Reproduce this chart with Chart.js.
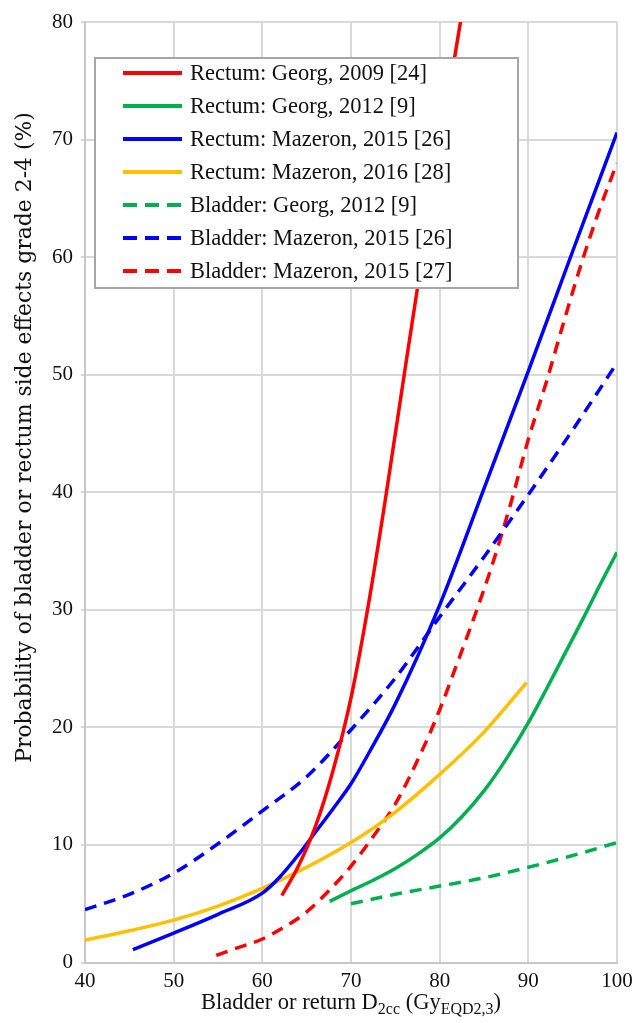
<!DOCTYPE html>
<html>
<head>
<meta charset="utf-8">
<script src="https://cdn.jsdelivr.net/npm/chart.js@4/dist/chart.umd.min.js"></script>
<style>
  body { margin: 0; background: #fff; }
</style>
</head>
<body>
<canvas id="doseChart" width="639" height="1023"></canvas>
<script>
// curves (x = dose in Gy, y = probability in %)
const rectumGeorg2009X = [62.2, 64, 66, 68, 70, 72, 74, 76, 77.5, 80, 82.3, 83];
const rectumGeorg2009Y = [5.7, 8.1, 11.6, 16.4, 22.5, 30.6, 40, 50, 57.4, 69.2, 79.8, 83];

const rectumGeorg2012X = [67.6, 70, 72.5, 75, 77.5, 80, 82.5, 85, 87.5, 90, 92, 94, 96, 98, 100];
const rectumGeorg2012Y = [5.2, 6.1, 7.0, 8.0, 9.2, 10.6, 12.4, 14.6, 17.3, 20.4, 23.2, 26.1, 29, 32, 34.9];

const rectumMazeron2015X = [45.4, 50, 55, 60, 62, 64, 66, 68, 70, 72, 75, 80, 85, 90, 95, 100];
const rectumMazeron2015Y = [1.1, 2.5, 4.1, 5.9, 7.3, 9.1, 11.1, 13.1, 15.2, 17.8, 22, 30.4, 40.3, 50.3, 60.5, 70.6];

const rectumMazeron2016X = [40, 45, 50, 55, 60, 65, 70, 75, 80, 85, 89.8];
const rectumMazeron2016Y = [1.9, 2.7, 3.6, 4.8, 6.3, 8.1, 10.2, 12.8, 16, 19.6, 23.8];

const bladderGeorg2012X = [70, 75, 80, 85, 90, 95, 100];
const bladderGeorg2012Y = [5.0, 5.8, 6.5, 7.2, 8.1, 9.1, 10.2];

const bladderMazeron2015aX = [40, 45, 50, 55, 60, 65, 70, 75, 80, 85, 90, 95, 100];
const bladderMazeron2015aY = [4.5, 5.8, 7.6, 10.1, 12.9, 15.8, 19.8, 24.2, 29.4, 34.5, 39.8, 45.3, 51];

const bladderMazeron2015bX = [54.8, 57, 60, 62, 65, 68, 70, 72, 75, 78, 80, 82, 84, 86, 88, 90, 92, 94, 96, 98, 100];
const bladderMazeron2015bY = [0.6, 1.2, 2.0, 2.8, 4.3, 6.5, 8.2, 10.2, 13.5, 18, 21.5, 25.5, 29.6, 34, 39, 44.5, 49.3, 54.5, 59.5, 64, 68];

const xTicks = [40, 50, 60, 70, 80, 90, 100];
const yTicks = [0, 10, 20, 30, 40, 50, 60, 70, 80];

const serif = "'Liberation Serif', 'DejaVu Serif', serif";
const wideSerif = "'DejaVu Serif', 'Liberation Serif', serif";
const yTitleText = 'Probability of bladder or rectum side effects grade 2-4 (%)';

function pts(xs, ys) {
    return xs.map((x, i) => ({ x: x, y: ys[i] }));
}

function curve(label, xs, ys, color, dashed) {
    return {
        label: label,
        data: pts(xs, ys),
        borderColor: color,
        backgroundColor: color,
        borderWidth: 3.5,
        borderDash: dashed ? [12, 8] : [],
        pointRadius: 0,
        cubicInterpolationMode: 'monotone',
        fill: false
    };
}

const datasets = [
    curve('Rectum: Georg, 2009 [24]', rectumGeorg2009X, rectumGeorg2009Y, '#ff0000', false),
    curve('Rectum: Georg, 2012 [9]', rectumGeorg2012X, rectumGeorg2012Y, '#00b050', false),
    curve('Rectum: Mazeron, 2015 [26]', rectumMazeron2015X, rectumMazeron2015Y, '#0000ff', false),
    curve('Rectum: Mazeron, 2016 [28]', rectumMazeron2016X, rectumMazeron2016Y, '#ffc000', false),
    curve('Bladder: Georg, 2012 [9]', bladderGeorg2012X, bladderGeorg2012Y, '#00b050', true),
    curve('Bladder: Mazeron, 2015 [26]', bladderMazeron2015aX, bladderMazeron2015aY, '#0000ff', true),
    curve('Bladder: Mazeron, 2015 [27]', bladderMazeron2015bX, bladderMazeron2015bY, '#ff0000', true)
];

// legend box drawn over the curves, like the original
const boxLegend = {
    id: 'boxLegend',
    afterDatasetsDraw(chart) {
        const ctx = chart.ctx;
        const a = chart.chartArea;
        const left = a.left + 10, top = a.top + 36;
        const w = 423, h = 230;
        ctx.save();
        ctx.fillStyle = '#fff';
        ctx.fillRect(left, top, w, h);
        ctx.strokeStyle = '#a6a6a6';
        ctx.lineWidth = 2;
        ctx.strokeRect(left, top, w, h);
        ctx.font = '22.5px ' + serif;
        ctx.textBaseline = 'middle';
        ctx.fillStyle = '#111';
        chart.data.datasets.forEach((ds, i) => {
            const y = top + 15 + i * 33;
            ctx.beginPath();
            ctx.setLineDash(ds.borderDash.length ? [14, 8] : []);
            ctx.strokeStyle = ds.borderColor;
            ctx.lineWidth = 4;
            ctx.moveTo(left + 28, y);
            ctx.lineTo(left + 87, y);
            ctx.stroke();
            ctx.setLineDash([]);
            ctx.fillText(ds.label, left + 95, y + 1);
        });
        ctx.restore();
    }
};

// axis titles (x one has subscripts)
const axisTitles = {
    id: 'axisTitles',
    afterDraw(chart) {
        const ctx = chart.ctx;
        const a = chart.chartArea;
        ctx.save();
        ctx.fillStyle = '#111';

        const parts = [
            ['Bladder or return D', 22.5, 0],
            ['2cc', 16, 5],
            [' (Gy', 22.5, 0],
            ['EQD2,3', 16, 5],
            [')', 22.5, 0]
        ];
        ctx.textBaseline = 'alphabetic';
        let total = 0;
        parts.forEach(p => { ctx.font = p[1] + 'px ' + serif; total += ctx.measureText(p[0]).width; });
        let x = (a.left + a.right) / 2 - total / 2;
        parts.forEach(p => {
            ctx.font = p[1] + 'px ' + serif;
            ctx.fillText(p[0], x, 1009 + p[2]);
            x += ctx.measureText(p[0]).width;
        });

        // y title: sized to run from about y=763 up to y=112
        ctx.font = '20px ' + wideSerif;
        const size = 20 * 651 / ctx.measureText(yTitleText).width;
        ctx.font = size.toFixed(2) + 'px ' + wideSerif;
        ctx.translate(25, (763 + 112) / 2);
        ctx.rotate(-Math.PI / 2);
        ctx.textAlign = 'center';
        ctx.textBaseline = 'middle';
        ctx.fillText(yTitleText, 0, 0);
        ctx.restore();
    }
};

new Chart(document.getElementById('doseChart'), {
    type: 'line',
    data: { datasets: datasets },
    options: {
        responsive: false,
        animation: false,
        layout: { padding: { left: 10, right: 22, top: 22, bottom: 0 } },
        plugins: {
            legend: { display: false },
            tooltip: { enabled: false }
        },
        scales: {
            x: {
                type: 'linear',
                min: 40,
                max: 100,
                afterFit: s => { s.height = 60.5; },
                afterBuildTicks: s => { s.ticks = xTicks.map(v => ({ value: v })); },
                ticks: { color: '#111', font: { family: serif, size: 21 }, padding: 6 },
                grid: { color: '#d9d9d9', lineWidth: 2, tickLength: 0 },
                border: { color: '#c8c8c8', width: 2 }
            },
            y: {
                min: 0,
                max: 80,
                afterFit: s => { s.width = 75; },
                afterBuildTicks: s => { s.ticks = yTicks.map(v => ({ value: v })); },
                ticks: { color: '#111', font: { family: serif, size: 21 }, padding: 8 },
                grid: { color: '#d9d9d9', lineWidth: 2, tickLength: 4 },
                border: { color: '#c8c8c8', width: 2 }
            }
        }
    },
    plugins: [boxLegend, axisTitles]
});
</script>
</body>
</html>
